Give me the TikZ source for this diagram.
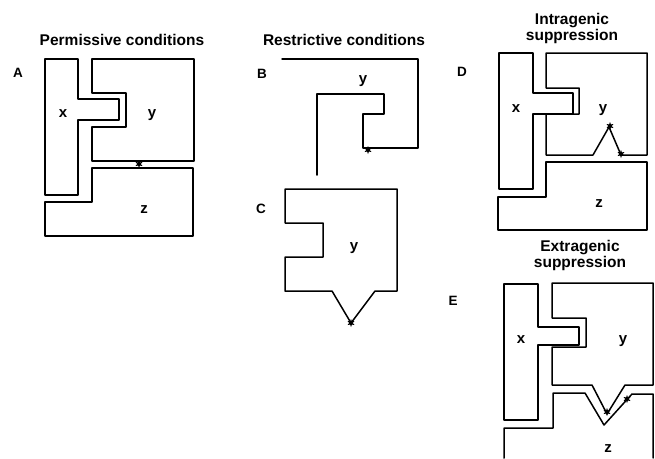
\documentclass[tikz,border=0pt]{standalone}
\usepackage{fontspec}
\setmainfont{Liberation Sans}
\usepackage{tikz}
\usetikzlibrary{shapes.geometric}

\tikzset{
  title/.style={font=\fontsize{15.5}{14.5}\selectfont\bfseries, align=center, inner sep=0pt},
  panel/.style={font=\fontsize{13.5}{13}\selectfont\bfseries, inner sep=0pt, anchor=base},
  prot/.style={font=\fontsize{15}{15}\selectfont\bfseries, inner sep=0pt, anchor=base},
  mut/.style={star, star points=6, star point ratio=2.2, fill, inner sep=0pt, minimum size=8pt},
}

\begin{document}
\begin{tikzpicture}[line cap=round, line join=round, x=1pt, y=-1pt, line width=1.5pt]
                \useasboundingbox (0,0) rectangle (655,458);

                % A: permissive
                \node[title, anchor=base] (titleA) at (122,45) {Permissive conditions};
                \node[panel] (A) at (18,77) {A};
                \draw (45,59) -- (78,59) -- (78,99) -- (119,99) -- (119,120) -- (78,120) -- (78,195) -- (45,195) -- cycle;
                \draw (92,59) -- (194,59) -- (194,161) -- (92,161) -- (92,127) -- (126,127) -- (126,93) -- (92,93) -- cycle;
                \draw (92,168) -- (193,168) -- (193,236) -- (45,236) -- (45,202) -- (92,202) -- cycle;
                \node[prot] (xA) at (63,117) {x};
                \node[prot] (yA) at (152,117) {y};
                \node[prot] (zA) at (144,213) {z};
                \node[mut] (mutA) at (139,164) {};

                % B: restrictive, unfolded
                \node[title, anchor=base] (titleB) at (344,45) {Restrictive conditions};
                \node[panel] (B) at (262,78) {B};
                \draw (282,59) -- (418,59) -- (418,148) -- (363,148) -- (363,114) -- (384,114) -- (384,94) -- (317,94) -- (317,175);
                \node[prot] (yB) at (363,83) {y};
                \node[mut] (mutB) at (368,150) {};

                % C: restrictive, misfolded
                \node[panel] (C) at (261,213) {C};
                \draw (285,189) -- (397,189) -- (397,291) -- (375,291) -- (351,323) -- (332,291) -- (285,291) -- (285,257) -- (323,257) -- (323,223) -- (285,223) -- cycle;
                \node[prot] (yC) at (354,250) {y};
                \node[mut] (mutC) at (351,323) {};

                % D: intragenic
                \node[title, anchor=north] (titleD) at (572,13) {Intragenic\\suppression};
                \node[panel] (D) at (462,76) {D};
                \draw (499,53) -- (533,53) -- (533,93) -- (573,93) -- (573,114) -- (533,114) -- (533,189) -- (499,189) -- cycle;
                \draw (546,53) -- (647,53) -- (647,155) -- (621,155) -- (609,127) -- (593,155) -- (546,155) -- (546,114) -- (579,114) -- (579,88) -- (546,88) -- cycle;
                \draw (546,162) -- (647,162) -- (647,230) -- (498,230) -- (498,197) -- (546,197) -- cycle;
                \node[prot] (xD) at (516,112) {x};
                \node[prot] (yD) at (603,112) {y};
                \node[prot] (zD) at (599,207) {z};
                \node[mut] (mutD1) at (610,126) {};
                \node[mut] (mutD2) at (621,154) {};

                % E: extragenic
                \node[title, anchor=north] (titleE) at (580,240) {Extragenic\\suppression};
                \node[panel] (E) at (453,305) {E};
                \draw (504,284) -- (538,284) -- (538,327) -- (579,327) -- (579,345) -- (538,345) -- (538,420) -- (504,420) -- cycle;
                \draw (552,283) -- (653,283) -- (653,385) -- (625,385) -- (607,414) -- (592,385) -- (552,385) -- (552,347) -- (586,347) -- (586,318) -- (552,318) -- cycle;
                \draw (504,458) -- (504,428) -- (553,428) -- (553,393) -- (585,393) -- (604,425) -- (632,394) -- (653,394) -- (653,458);
                \node[prot] (xE) at (521,343) {x};
                \node[prot] (yE) at (623,343) {y};
                \node[prot] (zE) at (608,452) {z};
                \node[mut] (mutE1) at (607,412) {};
                \node[mut] (mutE2) at (627,399) {};

\end{tikzpicture}
\end{document}
